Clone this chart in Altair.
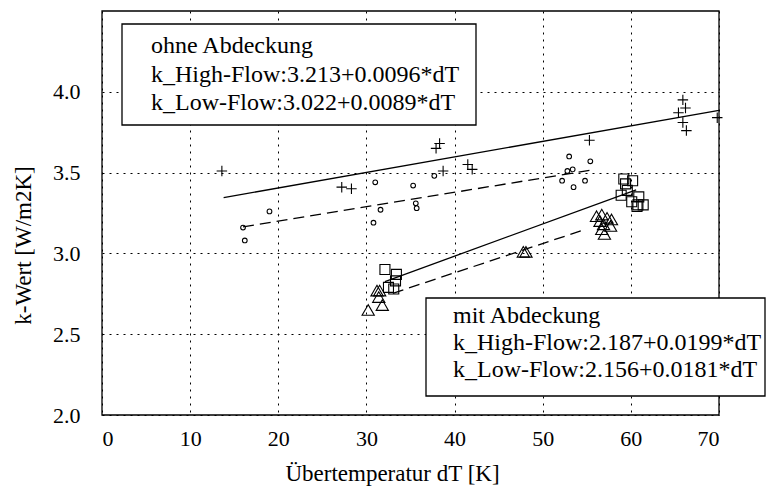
import altair as alt
import pandas as pd

FONT = "Liberation Serif"

# Measured heat-transfer coefficients (dT in K, k in W/m2K)
ohne_hf_dT = [13.6, 27.2, 28.3, 37.9, 38.3, 38.7, 41.5, 42.0, 55.3, 65.9, 66.2, 65.4, 65.9, 66.3, 69.8]
ohne_hf_k = [3.51, 3.41, 3.40, 3.65, 3.68, 3.51, 3.55, 3.52, 3.70, 3.95, 3.90, 3.87, 3.81, 3.76, 3.84]

ohne_lf_dT = [16.0, 16.2, 19.0, 30.8, 31.0, 31.6, 35.3, 35.6, 35.7, 37.7, 52.2, 52.8, 53.4, 53.0, 53.5, 54.8, 55.4]
ohne_lf_k = [3.16, 3.08, 3.26, 3.19, 3.44, 3.27, 3.42, 3.31, 3.28, 3.48, 3.45, 3.51, 3.52, 3.60, 3.41, 3.45, 3.57]

mit_hf_dT = [32.1, 33.4, 33.3, 32.5, 33.1, 59.2, 60.2, 59.4, 59.6, 58.9, 60.1, 60.9, 60.8, 61.4, 60.7]
mit_hf_k = [2.90, 2.87, 2.83, 2.79, 2.78, 3.46, 3.45, 3.43, 3.39, 3.36, 3.32, 3.35, 3.30, 3.30, 3.29]

mit_lf_dT = [30.2, 31.2, 31.5, 31.4, 31.8, 47.8, 48.1, 56.1, 56.7, 57.3, 57.8, 56.5, 56.9, 57.7, 56.7, 57.0]
mit_lf_k = [2.65, 2.77, 2.77, 2.73, 2.68, 3.01, 3.01, 3.23, 3.24, 3.22, 3.21, 3.20, 3.18, 3.17, 3.15, 3.12]

# Linear fits k = a + b*dT and the dT range each fit line covers
fit_names = ["ohne_hf", "ohne_lf", "mit_hf", "mit_lf"]
fit_a = [3.213, 3.022, 2.187, 2.156]
fit_b = [0.0096, 0.0089, 0.0199, 0.0181]
fit_from = [13.8, 16.0, 32.1, 33.0]
fit_to = [70.0, 55.4, 60.6, 54.8]
fit_dashed = [False, True, False, True]

x_ticks = [0, 10, 20, 30, 40, 50, 60, 70]
y_ticks = [2.0, 2.5, 3.0, 3.5, 4.0]
x_domain = [0, 70]
y_domain = [2.0, 4.5]

W, H = 617, 404

xs = alt.Scale(domain=x_domain, nice=False, zero=False)
ys = alt.Scale(domain=y_domain, nice=False, zero=False)

x_axis = alt.Axis(
    values=x_ticks, grid=True, ticks=False, domain=False, labelPadding=13,
    title="Übertemperatur dT [K]", titleX=290, titleY=58, titleAnchor="start",
    titleAlign="center", titleBaseline="middle",
)
y_axis = alt.Axis(
    values=y_ticks, format=".1f", grid=True, ticks=False, domain=False, labelPadding=22,
    title="k-Wert [W/m2K]", titleX=-79, titleY=234, titleAngle=-90, titleAlign="center",
    titleBaseline="middle",
)


def xy(df):
    return dict(
        x=alt.X("dT:Q", scale=xs, axis=x_axis),
        y=alt.Y("k:Q", scale=ys, axis=y_axis),
    )


# plot frame spanning the full domain
frame_df = pd.DataFrame({"dT": [x_domain[0]], "dT2": [x_domain[1]], "k": [y_domain[0]], "k2": [y_domain[1]]})
frame = alt.Chart(frame_df).mark_rect(fillOpacity=0, stroke="black", strokeWidth=1.3).encode(
    x2="dT2:Q", y2="k2:Q", **xy(frame_df)
)

layers = [frame]

# fit lines
for name, a, b, x0, x1, dashed in zip(fit_names, fit_a, fit_b, fit_from, fit_to, fit_dashed):
    df = pd.DataFrame({"dT": [x0, x1], "k": [a + b * x0, a + b * x1]})
    kw = dict(color="black", strokeWidth=1.3)
    if dashed:
        kw["strokeDash"] = [11, 6]
    layers.append(alt.Chart(df).mark_line(**kw).encode(**xy(df)))

# measured points, one marker per series
series = [
    (ohne_hf_dT, ohne_hf_k, "M-1,0L1,0M0,-1L0,1", 110),
    (ohne_lf_dT, ohne_lf_k, "circle", 22),
    (mit_hf_dT, mit_hf_k, "square", 100),
    (mit_lf_dT, mit_lf_k, "triangle-up", 150),
]
for dts, ks, shape, size in series:
    df = pd.DataFrame({"dT": dts, "k": ks})
    layers.append(
        alt.Chart(df).mark_point(shape=shape, size=size, filled=False, color="black",
                                 strokeWidth=1.1, opacity=1).encode(**xy(df))
    )

# annotation boxes with the fit equations
one = pd.DataFrame({"i": [0]})
box_text = [
    ("ohne Abdeckung", 0, (20, 374, 13, 114), (49, 42), 28.5),
    ("mit Abdeckung", 2, (324, 663, 287, 385), (351, 312), 27),
]
for title, i, (bx0, bx1, by0, by1), (tx, ty), lh in box_text:
    lines = [
        title,
        f"k_High-Flow:{fit_a[i]:.3f}+{fit_b[i]:.4f}*dT",
        f"k_Low-Flow:{fit_a[i + 1]:.3f}+{fit_b[i + 1]:.4f}*dT",
    ]
    layers.append(
        alt.Chart(one).mark_rect(fill="white", stroke="black", strokeWidth=1.3).encode(
            x=alt.value(bx0), x2=alt.value(bx1), y=alt.value(by0), y2=alt.value(by1)
        )
    )
    layers.append(
        alt.Chart(one).mark_text(
            align="left", baseline="alphabetic", font=FONT, fontSize=24, color="black",
            lineBreak="\n", lineHeight=lh,
        ).encode(x=alt.value(tx), y=alt.value(ty), text=alt.value("\n".join(lines)))
    )

chart = alt.layer(*layers).properties(
    width=W, height=H,
    autosize=alt.AutoSizeParams(type="none"),
    padding={"left": 102, "top": 11, "right": 49, "bottom": 83},
    background="white",
).configure_view(stroke=None).configure_axis(
    labelFont=FONT, labelFontSize=22, labelColor="black",
    titleFont=FONT, titleFontSize=23, titleFontWeight="normal", titleColor="black",
    gridColor="black", gridDash=[2, 5], gridWidth=1, gridOpacity=1,
)

chart.save("out.html", embed_options={"renderer": "svg", "actions": False})
